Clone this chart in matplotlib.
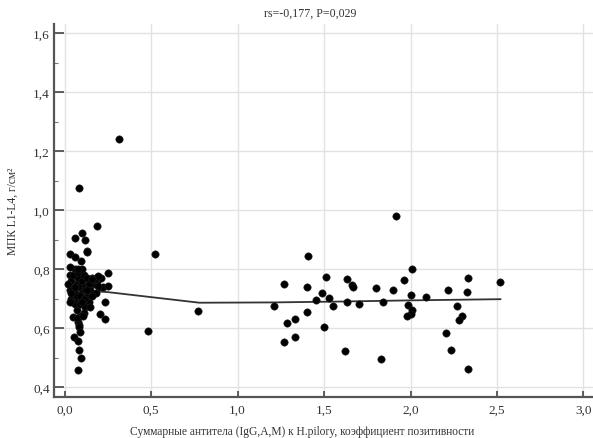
import matplotlib
matplotlib.use("Agg")
import matplotlib.pyplot as plt
from matplotlib.ticker import MultipleLocator

plt.rcParams['font.family'] = ['Liberation Serif', 'DejaVu Serif']

# Data
cluster_x = [0.03, 0.04, 0.05, 0.03, 0.04, 0.05, 0.06, 0.07, 0.08, 0.09, 0.10, 0.06, 0.07,
             0.08, 0.09, 0.10, 0.11, 0.12, 0.13, 0.14, 0.15, 0.16, 0.17, 0.18, 0.19, 0.12,
             0.11, 0.13, 0.14, 0.02, 0.05, 0.06, 0.08, 0.10, 0.04, 0.07, 0.09, 0.11, 0.12,
             0.16, 0.20, 0.22, 0.21, 0.15, 0.09, 0.08, 0.085, 0.06, 0.03, 0.10, 0.13, 0.18]
cluster_y = [0.78, 0.76, 0.74, 0.73, 0.70, 0.69, 0.72, 0.75, 0.77, 0.74, 0.72, 0.68, 0.66,
             0.70, 0.68, 0.76, 0.78, 0.74, 0.71, 0.69, 0.73, 0.77, 0.75, 0.72, 0.76, 0.67,
             0.65, 0.77, 0.75, 0.75, 0.78, 0.80, 0.79, 0.80, 0.72, 0.71, 0.71, 0.70, 0.73,
             0.71, 0.74, 0.74, 0.77, 0.67, 0.64, 0.62, 0.61, 0.74, 0.69, 0.69, 0.73, 0.77]

left_x = [0.085, 0.186, 0.099, 0.061, 0.118, 0.132, 0.128, 0.032, 0.061, 0.095, 0.523,
          0.032, 0.076, 0.253, 0.195, 0.157, 0.253, 0.195, 0.234, 0.205, 0.234, 0.484,
          0.773, 0.051, 0.070, 0.109, 0.084, 0.090, 0.057, 0.076, 0.084, 0.095, 0.076,
          0.317]
left_y = [1.074, 0.945, 0.924, 0.907, 0.900, 0.862, 0.859, 0.851, 0.840, 0.828, 0.852,
          0.806, 0.802, 0.787, 0.775, 0.768, 0.743, 0.744, 0.689, 0.647, 0.630, 0.590,
          0.659, 0.636, 0.633, 0.642, 0.602, 0.585, 0.568, 0.557, 0.525, 0.500, 0.458,
          1.240]

right_x = [1.916, 1.409, 2.007, 1.271, 1.400, 1.512, 1.631, 1.660, 1.669, 1.800, 1.900,
           1.964, 2.334, 2.517, 2.218, 2.325, 2.088, 2.001, 1.490, 1.531, 1.452, 1.631,
           1.839, 1.700, 1.550, 1.211, 1.987, 2.010, 2.001, 1.978, 2.267, 2.296, 2.282,
           1.284, 1.332, 1.400, 1.502, 1.270, 1.332, 1.621, 1.829, 2.205, 2.234, 2.334]
right_y = [0.981, 0.843, 0.802, 0.749, 0.741, 0.773, 0.766, 0.746, 0.738, 0.735, 0.729,
           0.764, 0.770, 0.757, 0.729, 0.724, 0.707, 0.713, 0.719, 0.703, 0.696, 0.689,
           0.690, 0.681, 0.676, 0.674, 0.678, 0.662, 0.647, 0.640, 0.674, 0.642, 0.627,
           0.617, 0.631, 0.653, 0.604, 0.554, 0.568, 0.521, 0.494, 0.582, 0.526, 0.460]

fit_x = [0.03, 0.25, 0.50, 0.78, 1.20, 1.60, 2.00, 2.52]
fit_y = [0.730, 0.722, 0.705, 0.686, 0.687, 0.690, 0.694, 0.698]

x_ticks = [0.0, 0.5, 1.0, 1.5, 2.0, 2.5, 3.0]
x_ticklabels = ['0,0', '0,5', '1,0', '1,5', '2,0', '2,5', '3,0']
y_ticks = [0.4, 0.6, 0.8, 1.0, 1.2, 1.4, 1.6]
y_ticklabels = ['0,4', '0,6', '0,8', '1,0', '1,2', '1,4', '1,6']

title = 'rs=-0,177, P=0,029'
xlabel = 'Суммарные антитела (IgG,A,M) к H.pilory, коэффициент позитивности'
ylabel = 'МПК L1-L4, г/см²'

fig = plt.figure(figsize=(5.93, 4.39), dpi=100)
ax = fig.add_axes([54/593, 41/439, (593-54)/593, (398-25)/439])

xs = cluster_x + left_x + right_x
ys = cluster_y + left_y + right_y
ax.scatter(xs, ys, s=28, color='black', edgecolors='#222222', linewidths=0.4, zorder=3)
ax.plot(fit_x, fit_y, color='#333333', linewidth=1.3, zorder=2)

ax.set_xlim(-0.061, 3.055)
ax.set_ylim(0.366, 1.632)
ax.set_xticks(x_ticks)
ax.set_xticklabels(x_ticklabels)
ax.set_yticks(y_ticks)
ax.set_yticklabels(y_ticklabels)
ax.yaxis.set_minor_locator(MultipleLocator(0.1))

ax.grid(True, which='major', color='#e2e2e2', linewidth=1.0, zorder=0)
ax.set_axisbelow(True)

for side in ['top', 'right']:
    ax.spines[side].set_visible(False)
for side in ['left', 'bottom']:
    ax.spines[side].set_color('#555555')
    ax.spines[side].set_linewidth(1.6)

ax.tick_params(axis='y', which='major', direction='in', length=7, width=1.2,
               color='#444444', labelsize=9.5, pad=3, labelcolor='#333333')
ax.tick_params(axis='y', which='minor', direction='in', length=3, width=0.8,
               color='#777777')
ax.tick_params(axis='x', which='major', direction='in', length=4.5, width=1.2,
               color='#444444', labelsize=9.5, pad=5, labelcolor='#333333')

ax.set_title(title, fontsize=8.6, color='#333333', x=0.475, pad=6)
ax.set_xlabel(xlabel, fontsize=8.3, color='#333333')
ax.xaxis.set_label_coords(0.46, -0.075)
ax.set_ylabel(ylabel, fontsize=8.3, color='#333333')
ax.yaxis.set_label_coords(-0.066, 0.5)

fig.savefig('out.png', dpi=100)
